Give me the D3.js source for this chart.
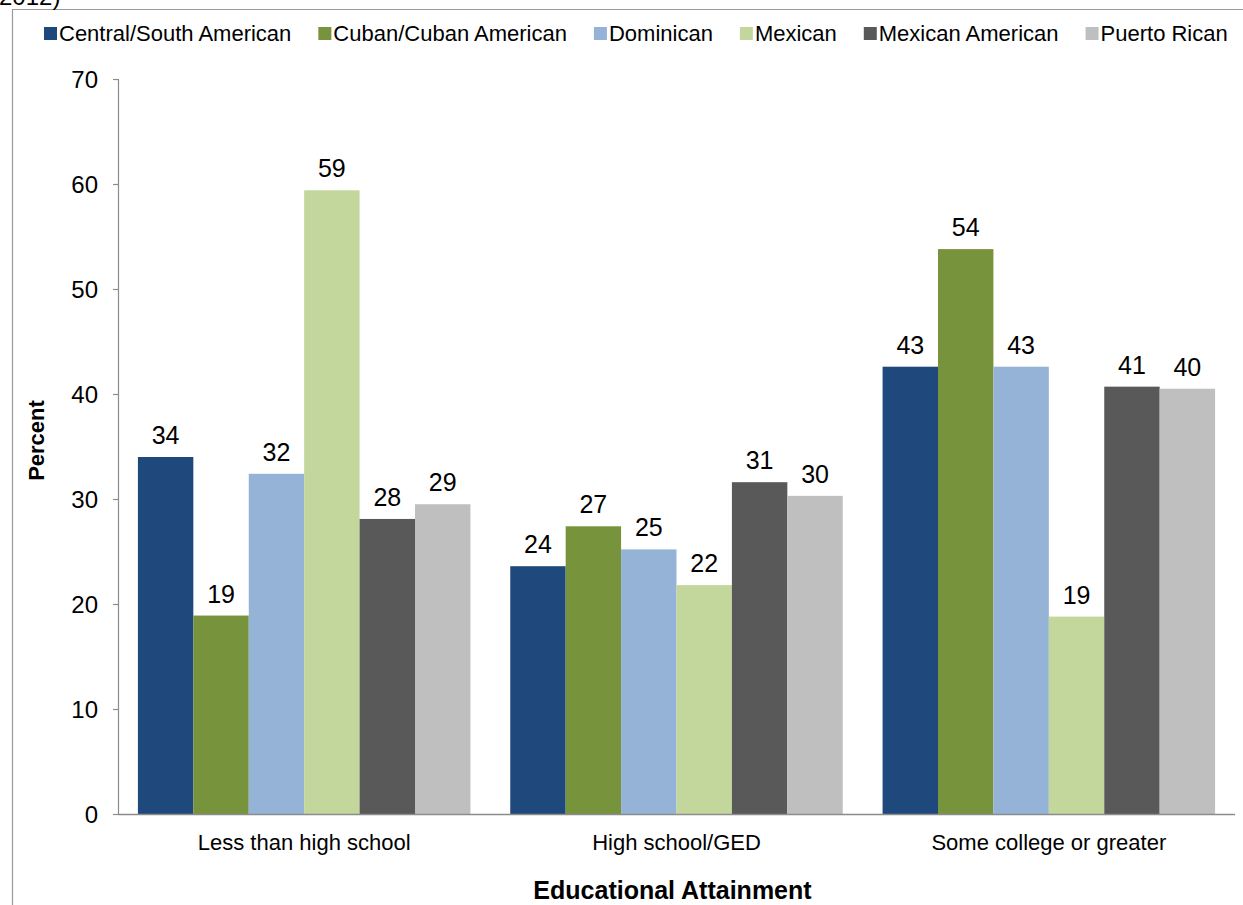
<!DOCTYPE html>
<html>
<head>
<meta charset="utf-8">
<script src="https://cdn.jsdelivr.net/npm/d3@7"></script>
<style>
  html, body { margin: 0; padding: 0; background: #fff; }
  svg { display: block; font-family: "Liberation Sans", Arial, sans-serif; }
</style>
</head>
<body>
<svg id="chart" width="1243" height="905"></svg>
<script>
const categories = ["Less than high school", "High school/GED", "Some college or greater"];
const seriesNames = ["Central/South American", "Cuban/Cuban American", "Dominican", "Mexican", "Mexican American", "Puerto Rican"];
const seriesColors = ["#1F497D", "#77933C", "#95B3D7", "#C3D69B", "#595959", "#BFBFBF"];
// values per series, in category order
const centralSouthAmerican = [34.0, 23.6, 42.6];
const cubanAmerican        = [18.9, 27.4, 53.8];
const dominican            = [32.4, 25.2, 42.6];
const mexican              = [59.4, 21.8, 18.8];
const mexicanAmerican      = [28.1, 31.6, 40.7];
const puertoRican          = [29.5, 30.3, 40.5];
const valueLabels = [
  [34, 24, 43], [19, 27, 54], [32, 25, 43], [59, 22, 19], [28, 31, 41], [29, 30, 40]
];
const yTicks = [0, 10, 20, 30, 40, 50, 60, 70];
const titleFragment = "2012)";

const seriesValues = [centralSouthAmerican, cubanAmerican, dominican, mexican, mexicanAmerican, puertoRican];

const svg = d3.select("#chart");
const margin = { left: 118, right: 1235, top: 79, bottom: 814 };
const FONT = "Liberation Sans, Arial, sans-serif";

// frame
svg.append("path")
  .attr("d", `M12.5,905 L12.5,9.5 L1243,9.5`)
  .attr("fill", "none").attr("stroke", "#9a9a9a").attr("stroke-width", 1.2);

// title fragment (cut off at top, as in the reference)
svg.append("text").attr("x", -1).attr("y", 5)
  .attr("font-size", 24).attr("fill", "#000").text(titleFragment);

const y = d3.scaleLinear().domain([0, 70]).range([margin.bottom, margin.top]);
const x0 = d3.scaleBand().domain(categories).range([margin.left, margin.right]).paddingInner(0.107).paddingOuter(0.0535);
const x1 = d3.scaleBand().domain(seriesNames).range([0, x0.bandwidth()]).padding(0);

// bars
const gBars = svg.append("g");
seriesNames.forEach((s, si) => {
  categories.forEach((c, ci) => {
    const v = seriesValues[si][ci];
    gBars.append("rect")
      .attr("x", x0(c) + x1(s))
      .attr("y", y(v))
      .attr("width", x1.bandwidth())
      .attr("height", y(0) - y(v))
      .attr("fill", seriesColors[si]);
    gBars.append("text")
      .attr("x", x0(c) + x1(s) + x1.bandwidth() / 2)
      .attr("y", y(v) - 13)
      .attr("text-anchor", "middle")
      .attr("font-size", 25)
      .attr("fill", "#000")
      .text(valueLabels[si][ci]);
  });
});

// y axis
const yAxis = svg.append("g").attr("transform", `translate(${margin.left},0)`)
  .call(d3.axisLeft(y).tickValues(yTicks).tickSize(5).tickPadding(15).tickFormat(d3.format("d")));
yAxis.select(".domain").attr("stroke", "#8c8c8c").attr("stroke-width", 1.2).attr("d", `M0.5,${margin.top}V${margin.bottom}`);
yAxis.selectAll(".tick line").attr("stroke", "#8c8c8c").attr("stroke-width", 1.2);
yAxis.selectAll(".tick text").attr("font-size", 24).attr("fill", "#000").attr("font-family", FONT).attr("dy", "0.36em");

// x axis
const xAxis = svg.append("g").attr("transform", `translate(0,${margin.bottom})`)
  .call(d3.axisBottom(x0).tickSize(0).tickPadding(20));
xAxis.select(".domain").attr("stroke", "#8c8c8c").attr("stroke-width", 1.5).attr("d", `M${margin.left},0.5H${margin.right}`);
xAxis.selectAll(".tick text").attr("font-size", 22).attr("fill", "#000").attr("font-family", FONT);

// axis titles
svg.append("text")
  .attr("transform", `translate(44,${(margin.top + margin.bottom) / 2 - 6}) rotate(-90)`)
  .attr("text-anchor", "middle").attr("font-size", 22).attr("font-weight", "bold").text("Percent");
svg.append("text")
  .attr("x", (margin.left + margin.right) / 2 - 4).attr("y", 899)
  .attr("text-anchor", "middle").attr("font-size", 25).attr("font-weight", "bold").text("Educational Attainment");

// legend
const legend = svg.append("g").attr("transform", "translate(44,0)");
let lx = 0;
seriesNames.forEach((s, i) => {
  const g = legend.append("g").attr("transform", `translate(${lx},0)`);
  g.append("rect").attr("x", 0).attr("y", 27).attr("width", 13).attr("height", 13).attr("fill", seriesColors[i]);
  const t = g.append("text").attr("x", 15).attr("y", 41).attr("font-size", 22).attr("fill", "#000").text(s);
  lx += 15 + t.node().getComputedTextLength() + 27;
});
</script>
</body>
</html>
